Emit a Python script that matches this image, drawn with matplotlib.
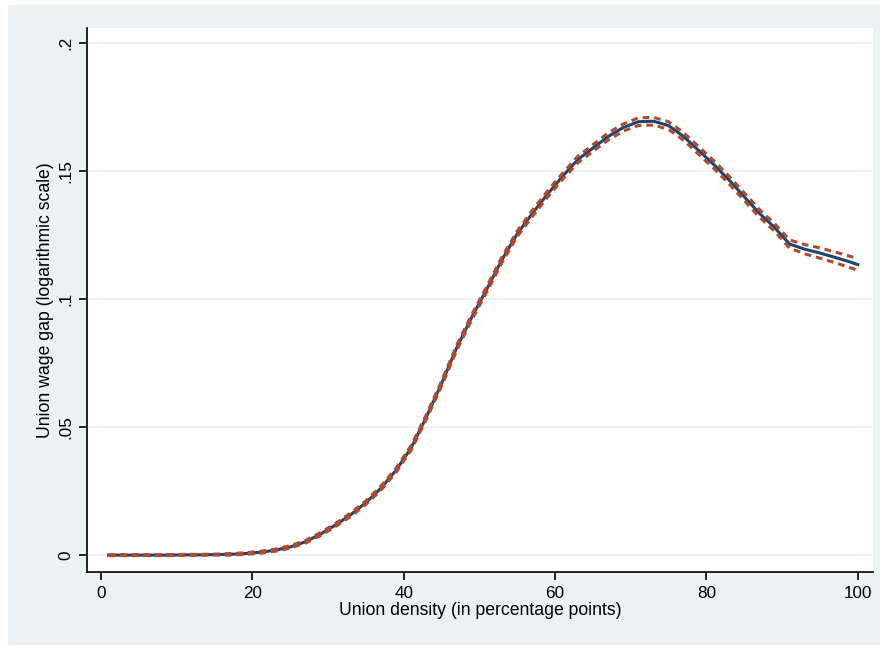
import numpy as np
import matplotlib.pyplot as plt
from matplotlib.patches import Rectangle

# Data
density = [1, 3, 5, 7, 9, 11, 13, 15, 17, 19, 21, 23, 25, 27, 29, 31, 33, 35, 37, 39,
           41, 43, 45, 47, 49, 51, 53, 55, 57, 59, 61, 63, 65, 67, 69, 71, 73, 75, 77, 79,
           81, 83, 85, 87, 89, 91, 93, 95, 97, 99, 100]
gap = [0.0000, 0.0000, 0.0000, 0.0000, 0.0000, 0.0001, 0.0001, 0.0002, 0.0003, 0.0006,
       0.0011, 0.0019, 0.0032, 0.0052, 0.0082, 0.0118, 0.0158, 0.0205, 0.0262, 0.0332,
       0.0420, 0.0540, 0.0670, 0.0810, 0.0930, 0.1040, 0.1155, 0.1255, 0.1335, 0.1410,
       0.1480, 0.1545, 0.1590, 0.1635, 0.1670, 0.1693, 0.1695, 0.1678, 0.1635, 0.1580,
       0.1525, 0.1465, 0.1400, 0.1335, 0.1280, 0.1215, 0.1195, 0.1180, 0.1163, 0.1145,
       0.1135]
ci_half = [0.0002, 0.0002, 0.0002, 0.0002, 0.0002, 0.0002, 0.0002, 0.0002, 0.0003, 0.0003,
           0.0004, 0.0004, 0.0005, 0.0005, 0.0006, 0.0006, 0.0007, 0.0007, 0.0008, 0.0008,
           0.0009, 0.0009, 0.0010, 0.0010, 0.0010, 0.0011, 0.0011, 0.0011, 0.0012, 0.0012,
           0.0012, 0.0013, 0.0013, 0.0014, 0.0014, 0.0015, 0.0015, 0.0015, 0.0015, 0.0015,
           0.0015, 0.0015, 0.0015, 0.0015, 0.0015, 0.0016, 0.0018, 0.0020, 0.0021, 0.0022,
           0.0023]
yticks = [0, 0.05, 0.1, 0.15, 0.2]
ytick_labels = ['0', '.05', '.1', '.15', '.2']
xticks = [0, 20, 40, 60, 80, 100]

x = np.array(density)
y = np.array(gap)
hw = np.array(ci_half)

plt.rcParams['font.family'] = ['Liberation Sans', 'DejaVu Sans']

navy = '#1a476f'
rust = '#b8482a'
bg = '#eaf2f3'

fig = plt.figure(figsize=(8.88, 6.47), dpi=100, facecolor='white')
frame = Rectangle((0.009, 0.003), 0.982, 0.989, transform=fig.transFigure,
                  facecolor=bg, edgecolor='none', zorder=-10)
fig.add_artist(frame)

ax = fig.add_axes([0.098, 0.1159, 0.885, 0.8408])
ax.set_facecolor('white')

ax.plot(x, y, '-', color=navy, lw=2.2, zorder=3)
ax.plot(x, y + hw, color=rust, lw=2.2, dashes=(2.2, 1.6), zorder=4)
ax.plot(x, y - hw, color=rust, lw=2.2, dashes=(2.2, 1.6), zorder=4)

ax.set_xlim(-1.85, 102)
ax.set_ylim(-0.0066, 0.2059)
ax.set_xticks(xticks)
ax.set_yticks(yticks)
ax.set_yticklabels(ytick_labels, rotation=90, va='center')
ax.grid(axis='y', color=bg, lw=1.5, zorder=0)
ax.set_axisbelow(True)

for s in ['top', 'right']:
    ax.spines[s].set_visible(False)
for s in ['left', 'bottom']:
    ax.spines[s].set_linewidth(1.2)
ax.tick_params(direction='out', length=6, width=1.2, labelsize=12.3, pad=4)

ax.set_xlabel('Union density (in percentage points)', fontsize=12.7, labelpad=1)
ax.set_ylabel('Union wage gap (logarithmic scale)', fontsize=12.7, labelpad=3)

fig.savefig('out.png', dpi=100, facecolor='white')
